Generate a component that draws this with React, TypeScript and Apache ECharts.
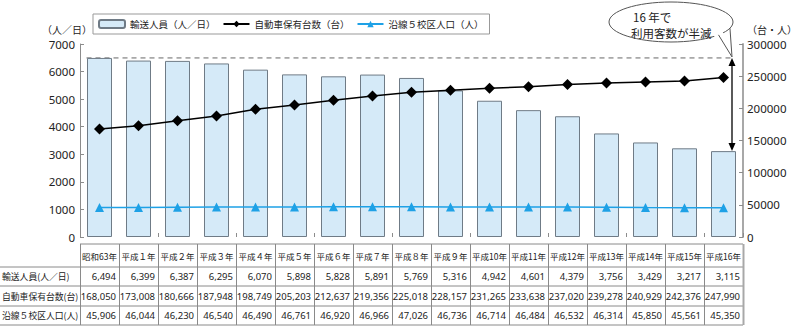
import React, { useEffect, useRef } from "react";
import * as echarts from "echarts";

const categories = ["昭和63年", "平成１年", "平成２年", "平成３年", "平成４年", "平成５年", "平成６年", "平成７年", "平成８年", "平成９年", "平成10年", "平成11年", "平成12年", "平成13年", "平成14年", "平成15年", "平成16年"];
const riders = [6494, 6399, 6387, 6295, 6070, 5898, 5828, 5891, 5769, 5316, 4942, 4601, 4379, 3756, 3429, 3217, 3115];
const cars = [168050, 173008, 180666, 187948, 198749, 205203, 212637, 219356, 225018, 228157, 231265, 233638, 237020, 239278, 240929, 242376, 247990];
const population = [45906, 46044, 46230, 46540, 46490, 46761, 46920, 46966, 47026, 46736, 46714, 46484, 46532, 46314, 45850, 45561, 45350];
const seriesNames = ["輸送人員（人／日）", "自動車保有台数（台）", "沿線５校区人口（人）"];
const rowLabels = ["輸送人員(人／日)", "自動車保有台数(台)", "沿線５校区人口(人)"];
const leftAxisName = "（人／日）";
const rightAxisName = "（台・人）";
const bubbleLines = ["16 年で", "利用客数が半減"];

const FONT = "'Noto Sans CJK JP', 'Noto Sans', sans-serif";
const GRID_LINE = "#8c8c8c";

export default function App() {
  const ref = useRef<HTMLDivElement>(null);
  useEffect(() => {
    document.body.style.margin = "0";
    const chart = echarts.init(ref.current!, null, { renderer: "svg" });
    const option: any = {
      animation: false,
      textStyle: { fontFamily: FONT },
      grid: { left: 80, right: 47, top: 44, bottom: 94, containLabel: false },
      legend: {
        left: 93,
        top: 14,
        padding: [5, 6, 5, 5],
        itemGap: 7,
        itemWidth: 26,
        itemHeight: 8,
        borderColor: "#999",
        borderWidth: 1,
        textStyle: { fontSize: 9.5, color: "#222", fontFamily: FONT },
        data: seriesNames,
      },
      xAxis: {
        type: "category",
        data: categories,
        axisLine: { show: false },
        axisTick: { show: true, inside: true, length: 4, lineStyle: { color: GRID_LINE } },
        axisLabel: { show: false },
      },
      yAxis: [
        {
          type: "value",
          min: 0,
          max: 7000,
          interval: 1000,
          name: leftAxisName,
          nameGap: 10,
          nameTextStyle: { fontSize: 10, color: "#222", align: "right", padding: [0, -12, 0, 0] },
          axisLine: { show: true, lineStyle: { color: GRID_LINE } },
          axisTick: { show: true, inside: true, length: 4, lineStyle: { color: GRID_LINE } },
          axisLabel: { fontSize: 11.5, color: "#222", margin: 5, fontFamily: "'Noto Sans', sans-serif", formatter: (v: number) => String(v) },
          splitLine: { show: false },
        },
        {
          type: "value",
          min: 0,
          max: 300000,
          interval: 50000,
          name: rightAxisName,
          nameGap: 10,
          nameTextStyle: { fontSize: 10, color: "#222", align: "left", padding: [0, 0, 0, 4] },
          axisLine: { show: true, lineStyle: { color: "#a8a8a8", width: 2 } },
          axisTick: { show: true, inside: true, length: 4, lineStyle: { color: GRID_LINE } },
          axisLabel: { fontSize: 11.5, color: "#222", margin: 4, fontFamily: "'Noto Sans', sans-serif", formatter: (v: number) => String(v) },
          splitLine: { show: false },
        },
      ],
      series: [
        {
          name: seriesNames[0],
          type: "bar",
          data: riders,
          barWidth: 25,
          itemStyle: { color: "#d5eaf8", borderColor: "#6f7b86", borderWidth: 1 },
          z: 2,
        },
        {
          name: seriesNames[1],
          type: "line",
          yAxisIndex: 1,
          data: cars,
          symbol: "diamond",
          symbolSize: 11,
          lineStyle: { color: "#000", width: 1.5 },
          itemStyle: { color: "#000" },
          z: 4,
        },
        {
          name: seriesNames[2],
          type: "line",
          yAxisIndex: 1,
          data: population,
          symbol: "triangle",
          symbolSize: 9,
          lineStyle: { color: "#1ea1e6", width: 1.5 },
          itemStyle: { color: "#1ea1e6" },
          z: 4,
        },
      ],
    };
    chart.setOption(option);

    const n = categories.length;
    const cx = (i: number) => chart.convertToPixel({ xAxisIndex: 0 }, i) as number;
    const yl = (v: number) => chart.convertToPixel({ yAxisIndex: 0 }, v) as number;
    const catW = (cx(n - 1) - cx(0)) / (n - 1);
    const tableLeft = cx(0) - catW / 2;
    const tableRight = cx(n - 1) + catW / 2;
    const yTop = yl(riders[0]);
    const yLast = yl(riders[n - 1]);
    const arrowX = tableRight - 11;

    const g: any[] = [];
    g.push({
      type: "line",
      z: 1,
      shape: { x1: cx(0) - 13, y1: yTop, x2: arrowX, y2: yTop },
      style: { stroke: "#666", lineWidth: 1, lineDash: [5, 4] },
    });
    const ah = 8, aw = 3.5;
    g.push({
      type: "line",
      z: 50,
      shape: { x1: arrowX, y1: yTop + ah - 1, x2: arrowX, y2: yLast - ah + 1 },
      style: { stroke: "#000", lineWidth: 1.3 },
    });
    g.push({
      type: "polygon",
      z: 50,
      shape: { points: [[arrowX, yTop], [arrowX - aw, yTop + ah], [arrowX + aw, yTop + ah]] },
      style: { fill: "#000" },
    });
    g.push({
      type: "polygon",
      z: 50,
      shape: { points: [[arrowX, yLast], [arrowX - aw, yLast - ah], [arrowX + aw, yLast - ah]] },
      style: { fill: "#000" },
    });
    const ecx = 671, ecy = 22, erx = 62, ery = 20;
    const tip: [number, number] = [arrowX, yTop - 1];
    const a1 = (40 * Math.PI) / 180, a2 = (18 * Math.PI) / 180;
    const p1: [number, number] = [ecx + erx * Math.cos(a1), ecy + ery * Math.sin(a1)];
    const p2: [number, number] = [ecx + erx * Math.cos(a2), ecy + ery * Math.sin(a2)];
    const q1: [number, number] = [ecx + 0.85 * erx * Math.cos(a1), ecy + 0.85 * ery * Math.sin(a1)];
    const q2: [number, number] = [ecx + 0.85 * erx * Math.cos(a2), ecy + 0.85 * ery * Math.sin(a2)];
    g.push({
      type: "ellipse",
      z: 60,
      shape: { cx: ecx, cy: ecy, rx: erx, ry: ery },
      style: { fill: "#fff", stroke: "#555", lineWidth: 1 },
    });
    g.push({
      type: "polygon",
      z: 61,
      shape: { points: [q1, tip, q2] },
      style: { fill: "#fff" },
    });
    g.push({
      type: "polyline",
      z: 62,
      shape: { points: [p1, tip, p2] },
      style: { stroke: "#555", lineWidth: 1, fill: null },
    });
    g.push({
      type: "text",
      z: 63,
      x: 633,
      y: 17,
      style: { text: bubbleLines[0], fontSize: 11.5, fontFamily: FONT, fill: "#222", align: "left", verticalAlign: "middle" },
    });
    g.push({
      type: "text",
      z: 63,
      x: 631,
      y: 33,
      style: { text: bubbleLines[1], fontSize: 11.5, fontFamily: FONT, fill: "#222", align: "left", verticalAlign: "middle" },
    });

    const rowY = [244, 267, 286, 306, 325];
    const rows = [riders, cars, population];
    const lineStyle = { stroke: "#8a8a8a", lineWidth: 1 };
    g.push({ type: "line", shape: { x1: tableLeft, y1: rowY[0], x2: tableRight, y2: rowY[0] }, style: lineStyle });
    for (let r = 1; r < rowY.length; r++) {
      g.push({ type: "line", shape: { x1: 0, y1: rowY[r], x2: tableRight, y2: rowY[r] }, style: lineStyle });
    }
    for (let i = 0; i <= n; i++) {
      const x = Math.round(tableLeft + i * catW) + 0.5;
      g.push({ type: "line", shape: { x1: x, y1: rowY[0], x2: x, y2: rowY[4] }, style: i === n ? { stroke: "#a8a8a8", lineWidth: 2 } : lineStyle });
    }
    for (let i = 0; i < n; i++) {
      g.push({
        type: "text",
        x: cx(i),
        y: (rowY[0] + rowY[1]) / 2,
        style: { text: categories[i], fontSize: 8.5, fontFamily: FONT, fill: "#222", align: "center", verticalAlign: "middle" },
      });
      rows.forEach((vals, r) => {
        g.push({
          type: "text",
          x: tableLeft + (i + 1) * catW - 3,
          y: (rowY[r + 1] + rowY[r + 2]) / 2,
          style: { text: vals[i].toLocaleString("en-US"), fontSize: 9.5, fontFamily: "'Noto Sans', sans-serif", fill: "#222", align: "right", verticalAlign: "middle" },
        });
      });
    }
    rowLabels.forEach((lab, r) => {
      g.push({
        type: "text",
        x: 2,
        y: (rowY[r + 1] + rowY[r + 2]) / 2,
        style: { text: lab, fontSize: 8.8, fontFamily: FONT, fill: "#222", align: "left", verticalAlign: "middle" },
      });
    });

    chart.setOption({ graphic: g });
    return () => chart.dispose();
  }, []);
  return <div ref={ref} style={{ width: 800, height: 331, position: "absolute", left: 0, top: 0, background: "#fff" }} />;
}
